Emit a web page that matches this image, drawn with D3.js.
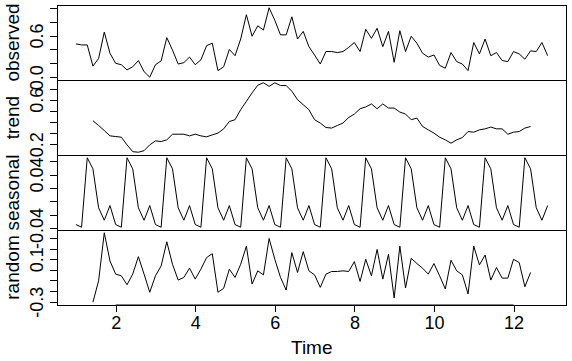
<!DOCTYPE html>
<html lang="en">
<head>
  <meta charset="UTF-8">
  <title>Decomposition of a weekly series</title>
  <style>
    body { margin: 0; background: #fff; }
    svg { display: block; }
    text { font-family: "Liberation Sans", Arial, sans-serif; fill: #000; }
  </style>
</head>
<body>
  <div id="chart"></div>
  <script src="https://d3js.org/d3.v7.min.js"></script>
  <script>
    // series: 12 cycles of 7 observations, starting at time 1
    const FREQ = 7;
    const START = 1;

    const observed = [
      0.48, 0.465, 0.465, 0.16, 0.27, 0.65, 0.345,
      0.2, 0.18, 0.105, 0.15, 0.24, 0.08, 0.0,
      0.18, 0.235, 0.57, 0.39, 0.19, 0.21, 0.29,
      0.18, 0.25, 0.455, 0.49, 0.095, 0.15, 0.40,
      0.31, 0.55, 0.9, 0.59, 0.74, 0.68, 1.0,
      0.82, 0.61, 0.61, 0.87, 0.55, 0.66, 0.44,
      0.32, 0.19, 0.37, 0.37, 0.355, 0.37, 0.43,
      0.50, 0.37, 0.69, 0.56, 0.705, 0.44, 0.66,
      0.215, 0.67, 0.37, 0.59, 0.49, 0.345, 0.29,
      0.32, 0.17, 0.13, 0.355, 0.225, 0.19, 0.095,
      0.50, 0.335, 0.55, 0.31, 0.355, 0.24, 0.225,
      0.37, 0.335, 0.26, 0.38, 0.37, 0.50, 0.31
    ];

    // trend is missing for the first and last 3 points (centred moving average)
    const trend = [
      null, null, null, 0.411, 0.368, 0.323, 0.275,
      0.269, 0.263, 0.194, 0.133, 0.128, 0.142, 0.194,
      0.23, 0.224, 0.239, 0.29, 0.29, 0.29, 0.275,
      0.29, 0.275, 0.266, 0.284, 0.30, 0.338, 0.404,
      0.42, 0.51, 0.585, 0.661, 0.73, 0.752, 0.72,
      0.752, 0.727, 0.727, 0.676, 0.60, 0.555, 0.51,
      0.42, 0.39, 0.35, 0.345, 0.368, 0.39, 0.44,
      0.471, 0.519, 0.535, 0.562, 0.519, 0.562, 0.525,
      0.525, 0.489, 0.471, 0.42, 0.435, 0.359, 0.329,
      0.30, 0.263, 0.239, 0.209, 0.239, 0.26, 0.314,
      0.308, 0.329, 0.338, 0.354, 0.338, 0.338, 0.29,
      0.308, 0.314, 0.345, 0.359, null, null, null
    ];

    // one seasonal figure, repeated every cycle
    const seasonalFigure = [-0.035, -0.039, 0.0652, 0.0486, -0.0099, -0.0285, -0.0065];

    const random = [
      null, null, null, -0.305, -0.103, 0.35, 0.084,
      -0.04, -0.056, -0.14, -0.04, 0.125, -0.04, -0.211,
      -0.056, 0.037, 0.265, 0.053, -0.096, -0.071, 0.016,
      -0.087, 0.007, 0.116, 0.153, -0.211, -0.174, 0.007,
      -0.071, 0.053, 0.224, -0.134, -0.009, -0.047, 0.296,
      0.10, -0.071, -0.19, 0.163, -0.024, 0.172, -0.009,
      -0.047, -0.165, -0.04, -0.015, -0.015, -0.009, -0.015,
      0.078, -0.109, 0.10, -0.056, 0.193, -0.087, 0.147,
      -0.265, 0.224, -0.171, 0.109, 0.06, 0.016, -0.04,
      0.06, -0.056, -0.18, 0.091, -0.009, -0.047, -0.227,
      0.224, 0.047, 0.14, -0.096, 0.022, -0.078, -0.078,
      0.10, 0.069, -0.159, -0.024, null, null, null
    ];

    const seasonal = observed.map((d, i) => seasonalFigure[i % FREQ]);

    const panelNames = ['observed', 'trend', 'seasonal', 'random'];
    const panelSeries = [observed, trend, seasonal, random];
    // ticks on each y axis, and which of them carry a label
    const yTicks = [
      [0, 0.2, 0.4, 0.6, 0.8, 1.0],
      [0.2, 0.3, 0.4, 0.5, 0.6, 0.7],
      [-0.04, -0.02, 0, 0.02, 0.04, 0.06],
      [-0.3, -0.2, -0.1, 0, 0.1, 0.2, 0.3]
    ];
    const yTickLabels = [
      ['0.0', '', '', '0.6', '', ''],
      ['0.2', '', '', '', '0.6', ''],
      ['-0.04', '', '', '', '0.04', ''],
      ['-0.3', '', '', '', '0.1', '', '']
    ];
    const xTicks = [2, 4, 6, 8, 10, 12];

    const WIDTH = 572, HEIGHT = 361;
    const margin = {top: 5, right: 5.5, bottom: 56, left: 57};
    const plotW = WIDTH - margin.left - margin.right;
    const panelH = (HEIGHT - margin.top - margin.bottom) / panelNames.length;

    const times = observed.map((d, i) => START + i / FREQ);
    const tRange = d3.extent(times);
    const tPad = (tRange[1] - tRange[0]) * 0.04;

    const x = d3.scaleLinear()
      .domain([tRange[0] - tPad, tRange[1] + tPad])
      .range([0, plotW]);

    const svg = d3.select('#chart')
      .append('svg')
      .attr('width', WIDTH)
      .attr('height', HEIGHT);

    svg.append('rect').attr('width', WIDTH).attr('height', HEIGHT).attr('fill', '#fff');

    const main = svg.append('g')
      .attr('transform', `translate(${margin.left},${margin.top})`);

    panelSeries.forEach((series, p) => {
      const g = main.append('g').attr('transform', `translate(0,${p * panelH})`);
      const vals = series.filter(v => v !== null);
      const ext = d3.extent(vals);
      const pad = (ext[1] - ext[0]) * 0.04;
      const y = d3.scaleLinear()
        .domain([ext[0] - pad, ext[1] + pad])
        .range([panelH, 0]);

      const line = d3.line()
        .defined(d => d !== null)
        .x((d, i) => x(times[i]))
        .y(d => y(d));

      g.append('path')
        .datum(series)
        .attr('d', line)
        .attr('fill', 'none')
        .attr('stroke', '#000')
        .attr('stroke-width', 1);

      // box round the panel
      g.append('rect')
        .attr('x', 0).attr('y', 0)
        .attr('width', plotW).attr('height', panelH)
        .attr('fill', 'none').attr('stroke', '#000').attr('stroke-width', 1)
        .attr('shape-rendering', 'crispEdges');

      const yAxis = d3.axisLeft(y)
        .tickValues(yTicks[p])
        .tickSize(7)
        .tickSizeOuter(0)
        .tickFormat((d, i) => yTickLabels[p][i]);

      const ax = g.append('g').call(yAxis);
      ax.select('.domain').remove();
      ax.selectAll('line').attr('stroke', '#000').attr('shape-rendering', 'crispEdges');
      ax.selectAll('text')
        .attr('transform', 'rotate(-90)')
        .attr('x', 0)
        .attr('y', -14)
        .attr('dy', null)
        .attr('text-anchor', 'middle')
        .attr('font-size', '18px')
        .attr('font-family', '"Liberation Sans", Arial, sans-serif')
        .attr('fill', '#000');

      g.append('text')
        .attr('transform', `translate(${-38},${panelH / 2}) rotate(-90)`)
        .attr('text-anchor', 'middle')
        .attr('font-size', '19px')
        .text(panelNames[p]);
    });

    // time axis under the last panel
    const xAxis = d3.axisBottom(x)
      .tickValues(xTicks)
      .tickSize(7)
      .tickSizeOuter(0);

    const xg = main.append('g')
      .attr('transform', `translate(0,${panelH * panelNames.length})`)
      .call(xAxis);
    xg.select('.domain')
      .attr('d', `M${x(xTicks[0])},0H${x(xTicks[xTicks.length - 1])}`)
      .attr('stroke', '#000');
    xg.selectAll('line').attr('stroke', '#000').attr('shape-rendering', 'crispEdges');
    xg.selectAll('text')
      .attr('y', 24)
      .attr('dy', null)
      .attr('font-size', '18px')
      .attr('font-family', '"Liberation Sans", Arial, sans-serif')
      .attr('fill', '#000');

    main.append('text')
      .attr('x', plotW / 2)
      .attr('y', panelH * panelNames.length + 49)
      .attr('text-anchor', 'middle')
      .attr('font-size', '19px')
      .text('Time');
  </script>
</body>
</html>
